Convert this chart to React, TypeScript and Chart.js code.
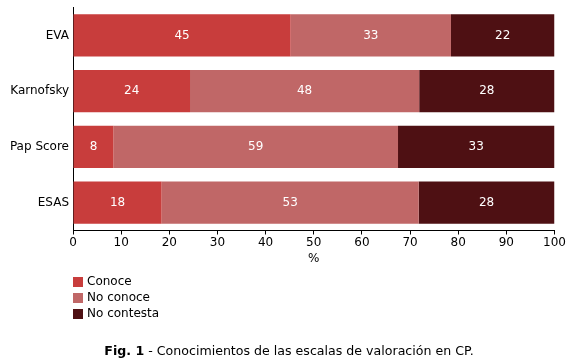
import React, { useEffect, useRef } from "react";
import { Chart, registerables } from "chart.js";

Chart.register(...registerables);

const categories = ["EVA", "Karnofsky", "Pap Score", "ESAS"];
const seriesNames = ["Conoce", "No conoce", "No contesta"];
const conoce = [45.2, 24.3, 8.4, 18.4];
const noConoce = [33.3, 47.6, 59.1, 53.4];
const noContesta = [21.5, 28.1, 32.5, 28.2];
const xTicks = [0, 10, 20, 30, 40, 50, 60, 70, 80, 90, 100];
const colors = ["#C83D3C", "#C06767", "#4E1013"];

const FONT = "'DejaVu Sans', Verdana, sans-serif";

const labelPlugin = {
  id: "segLabels",
  afterDatasetsDraw(chart: any) {
    const ctx = chart.ctx;
    ctx.save();
    ctx.font = `12px ${FONT}`;
    ctx.fillStyle = "#ffffff";
    ctx.textAlign = "center";
    ctx.textBaseline = "middle";
    chart.data.datasets.forEach((ds: any, di: number) => {
      const meta = chart.getDatasetMeta(di);
      meta.data.forEach((bar: any, i: number) => {
        const v = ds.data[i];
        const cx = (bar.base + bar.x) / 2;
        ctx.fillText(String(Math.round(v)), cx, bar.y);
      });
    });
    ctx.restore();
  },
};

const legendPlugin = {
  id: "vertLegend",
  afterDraw(chart: any) {
    const ctx = chart.ctx;
    const left = chart.chartArea.left;
    ctx.save();
    ctx.font = `12px ${FONT}`;
    ctx.textAlign = "left";
    ctx.textBaseline = "middle";
    chart.data.datasets.forEach((ds: any, i: number) => {
      const cy = 282 + i * 16;
      ctx.fillStyle = ds.backgroundColor;
      ctx.fillRect(left, cy - 5, 10, 10);
      ctx.fillStyle = "#000000";
      ctx.fillText(ds.label, left + 14, cy);
    });
    ctx.restore();
  },
};

export default function App() {
  const ref = useRef<HTMLCanvasElement | null>(null);
  useEffect(() => {
    if (!ref.current) return;
    const chart = new Chart(ref.current, {
      type: "bar",
      data: {
        labels: categories,
        datasets: [
          { label: seriesNames[0], data: conoce, backgroundColor: colors[0] },
          { label: seriesNames[1], data: noConoce, backgroundColor: colors[1] },
          { label: seriesNames[2], data: noContesta, backgroundColor: colors[2] },
        ],
      },
      options: {
        indexAxis: "y",
        animation: false,
        responsive: false,
        maintainAspectRatio: false,
        datasets: { bar: { categoryPercentage: 1, barPercentage: 0.76, borderWidth: 0 } },
        layout: { padding: { left: 0, right: 14.5, top: 7.5, bottom: 96.5 } },
        plugins: { legend: { display: false }, tooltip: { enabled: false } },
        scales: {
          x: {
            stacked: true,
            min: 0,
            max: 100,
            afterBuildTicks: (scale: any) => {
              scale.ticks = xTicks.map((v) => ({ value: v }));
            },
            afterFit: (scale: any) => {
              scale.height = 36;
              scale.paddingLeft = 0;
              scale.paddingRight = 0;
            },
            grid: { display: true, drawOnChartArea: false, drawTicks: true, tickLength: 4, color: "#000" },
            border: { display: true, color: "#000", width: 1 },
            ticks: { color: "#000", font: { family: FONT, size: 12 }, padding: 1, maxRotation: 0, autoSkip: false },
            title: { display: true, text: "%", color: "#000", font: { family: FONT, size: 12 }, padding: 0 },
          },
          y: {
            stacked: true,
            afterFit: (scale: any) => {
              scale.width = 73;
              scale.paddingTop = 0;
              scale.paddingBottom = 0;
            },
            grid: { display: false, drawTicks: false },
            border: { display: true, color: "#000", width: 1 },
            ticks: { color: "#000", font: { family: FONT, size: 12 }, padding: 4 },
          },
        },
      },
      plugins: [labelPlugin, legendPlugin],
    });
    return () => chart.destroy();
  }, []);

  return (
    <div style={{ position: "absolute", left: 0, top: 0, width: 569, height: 363, background: "#fff" }}>
      <canvas ref={ref} width={569} height={363} style={{ position: "absolute", left: 0, top: 0 }} />
      <div
        style={{
          position: "absolute",
          left: 0,
          top: 343,
          width: 578,
          textAlign: "center",
          fontFamily: FONT,
          fontSize: 12.6,
          lineHeight: "16px",
          color: "#000",
        }}
      >
        <b>Fig. 1</b> - Conocimientos de las escalas de valoración en CP.
      </div>
    </div>
  );
}
